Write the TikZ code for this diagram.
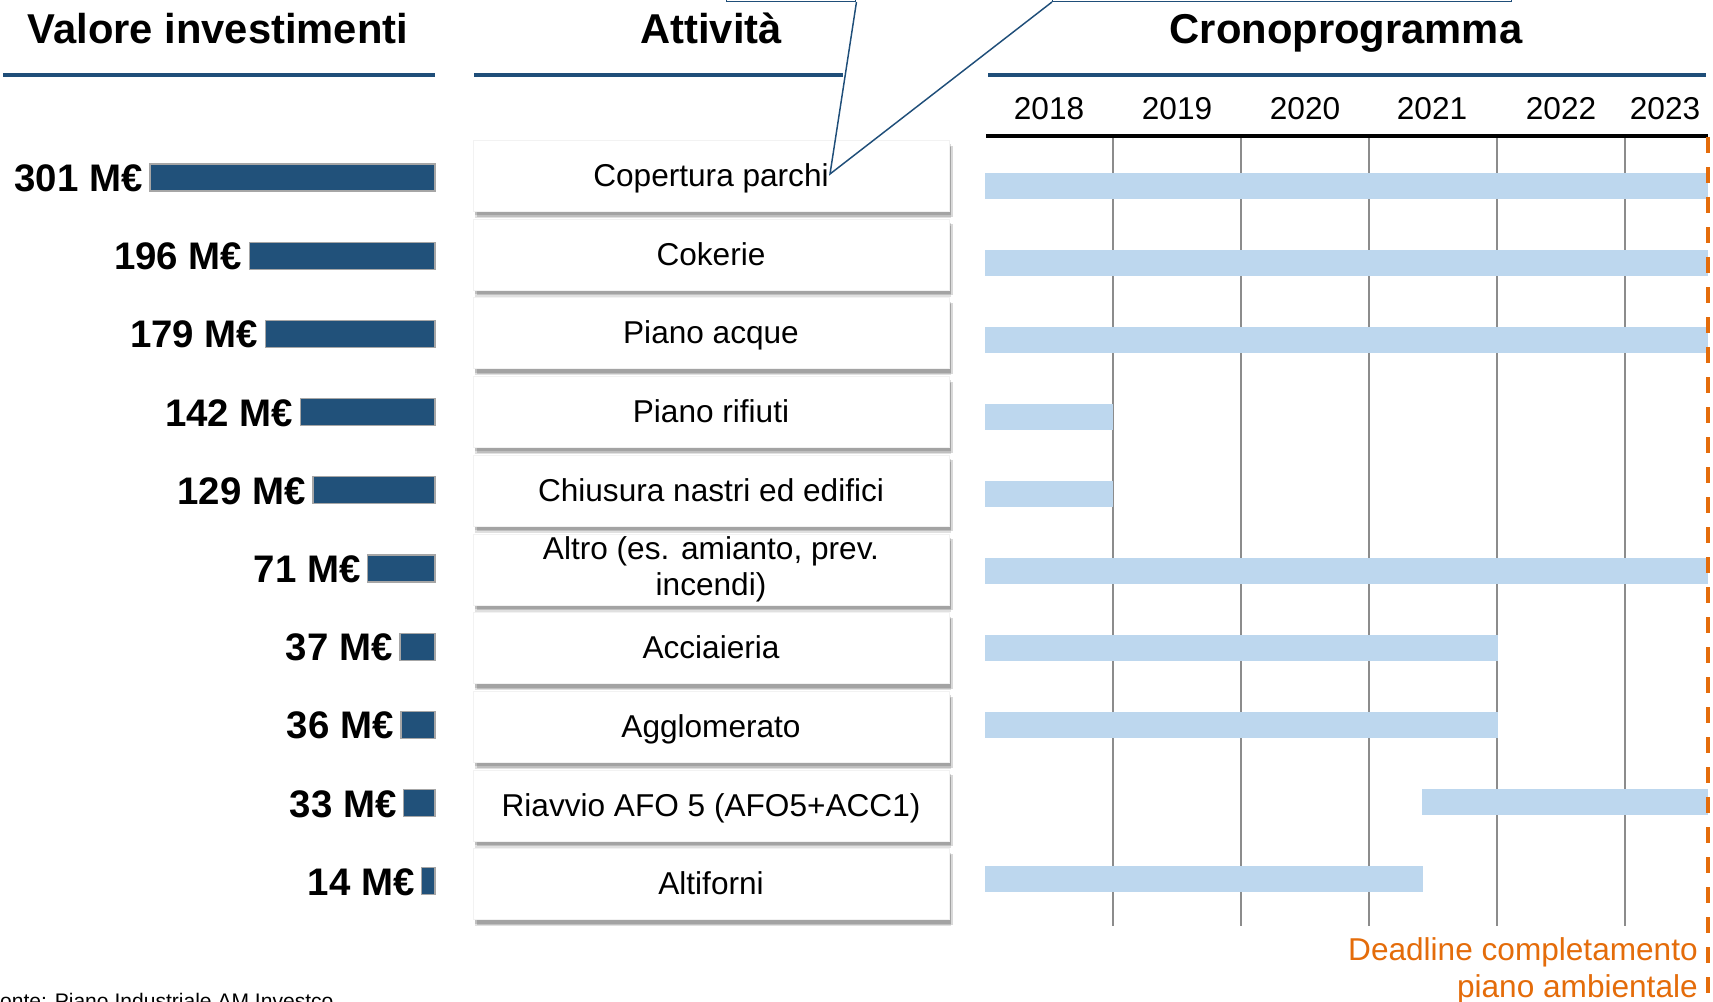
\documentclass[tikz,border=0pt]{standalone}
\usepackage{fontspec}
\setmainfont{Liberation Sans}
\usetikzlibrary{shadows}
\definecolor{navy}{RGB}{31,78,121}
\definecolor{barnavy}{RGB}{33,81,122}
\definecolor{lblue}{RGB}{189,215,238}
\definecolor{dorange}{RGB}{228,108,10}
\definecolor{gridgray}{RGB}{140,140,140}
\begin{document}
\begin{tikzpicture}[x=0.75pt,y=-0.75pt,
  hdr/.style={font=\fontsize{31.3}{37}\selectfont\bfseries, anchor=base, inner sep=0pt},
  hrule/.style={draw=navy, line width=3pt},
  vlab/.style={font=\fontsize{28.8}{34}\selectfont\bfseries, anchor=base east, inner sep=0pt},
  vbar/.style={fill=barnavy, draw=gray!70, line width=1pt},
  actbox/.style={rectangle, fill=white, draw=black!5, line width=.5pt,
    minimum width=357pt, minimum height=53.25pt, inner sep=0pt, anchor=north west,
    drop shadow={shadow xshift=1.5pt, shadow yshift=-5pt, fill=black, opacity=.12},
    drop shadow={shadow xshift=2.5pt, shadow yshift=-4pt, fill=black, opacity=.15},
    drop shadow={shadow xshift=1pt, shadow yshift=-3pt, fill=black, opacity=.15}},
  acttxt/.style={font=\fontsize{23.7}{26.5}\selectfont, align=center, anchor=base, inner sep=0pt},
  yrlab/.style={font=\fontsize{23.7}{28}\selectfont, anchor=base, inner sep=0pt},
  gbar/.style={fill=lblue},
  gridln/.style={draw=gridgray, line width=1.5pt},
  axisln/.style={draw=black, line width=3pt},
  deadln/.style={draw=dorange, line width=3.3pt, dash pattern=on 12pt off 10.5pt},
  callout/.style={draw=navy, line width=1.1pt},
  ]
\path[use as bounding box] (0,0) rectangle (1713,1002);
\clip (0,0) rectangle (1713,1002);

% headers
\node[hdr] (hval) at (218,44) {Valore investimenti};
\node[hdr] (hatt) at (711,44) {Attività};
\node[hdr] (hcro) at (1346,44) {Cronoprogramma};
\draw[hrule] (3,75) -- (435,75);
\draw[hrule] (474,75) -- (843,75);
\draw[hrule] (988,75) -- (1706,75);

% years
\foreach \yr/\xc in {2018/1049,2019/1177,2020/1305,2021/1432,2022/1561,2023/1665}
  \node[yrlab] (y\yr) at (\xc,120) {\yr};

% grid
\foreach \gx in {1113,1241,1369,1497,1625}
  \draw[gridln] (\gx,138) -- (\gx,926);
\draw[axisln] (986,136) -- (1708,136);

% gantt bars
\foreach \a/\b [count=\i from 0] in {985/1708,985/1708,985/1708,985/1113,985/1113,985/1708,985/1498,985/1498,1422/1708,985/1423}{
  \pgfmathsetmacro\gc{186+77*\i}
  \fill[gbar] (\a,\gc-13) rectangle (\b,\gc+13);
}

% deadline
\draw[deadln] (1708,137) -- (1708,1002);
\node[font=\fontsize{23.7}{27.75}\selectfont, text=dorange, align=right, anchor=base east, inner sep=0pt] (dl) at (1698,997) {Deadline completamento\\piano ambientale};

% value bars
\foreach \v [count=\i from 0] in {301,196,179,142,129,71,37,36,33,14}{
  \pgfmathsetmacro\vc{177.5+78.2*\i}
  \pgfmathsetmacro\vl{435-0.947*\v}
  \draw[vbar] (\vl,\vc-13.5) rectangle (435,\vc+13.5);
  \node[vlab] (v\i) at (\vl-7,\vc+14) {\v\ M€};
}

% activity boxes
\foreach \t/\dy [count=\i from 0] in {Copertura parchi/46.5, Cokerie/46.5, Piano acque/46.5, Piano rifiuti/46.5, Chiusura nastri ed edifici/46.5, {Altro (es. amianto, prev.\\incendi)}/61.5, Acciaieria/46.5, Agglomerato/46.5, Riavvio AFO 5 (AFO5+ACC1)/46.5, Altiforni/46.5}{
  \pgfmathsetmacro\at{140+78.7*\i}
  \node[actbox] (a\i) at (473,\at) {};
  \node[acttxt] (t\i) at (711,\at+\dy) {\t};
}

% callouts
\node[callout, rectangle, minimum width=96.75pt, minimum height=30pt, inner sep=0pt, anchor=south west] (cb1) at (726,2) {};
\node[callout, rectangle, minimum width=344.25pt, minimum height=30pt, inner sep=0pt, anchor=south west] (cb2) at (1052,2) {};
\coordinate (tip) at (830,174);
\draw[callout] (cb1.south east) -- (tip) -- (cb2.south west);

% source
\node[font=\fontsize{15.8}{19}\selectfont, anchor=base west, inner sep=0pt] (src) at (-13,1008) {Fonte: Piano Industriale AM Investco};
\end{tikzpicture}
\end{document}
